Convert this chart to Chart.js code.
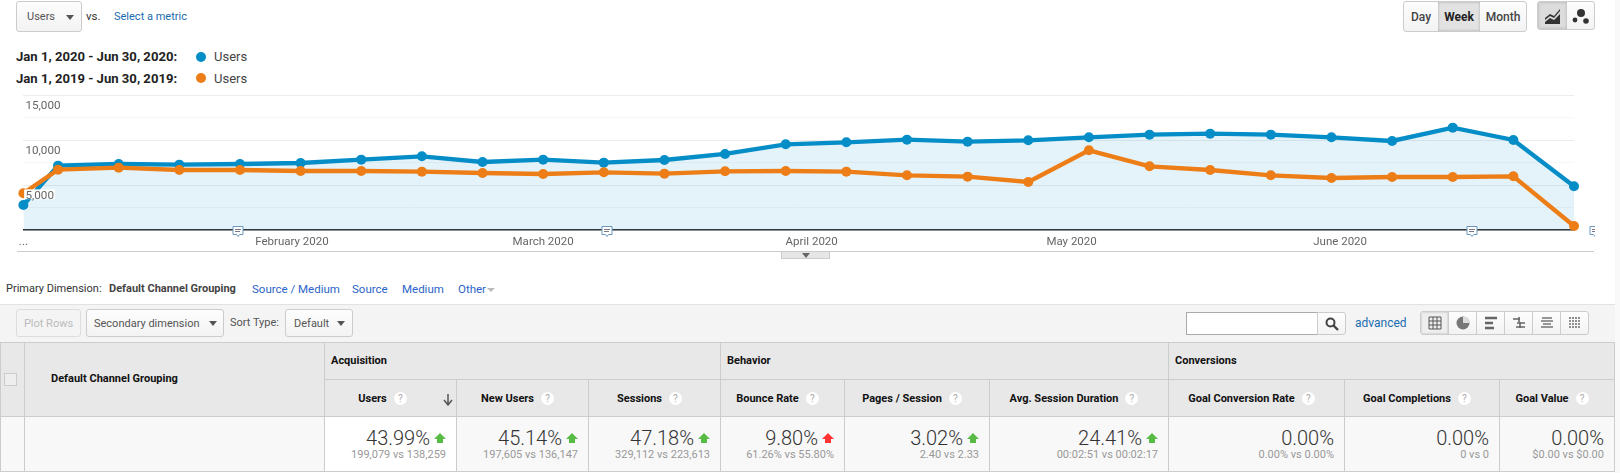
<!DOCTYPE html>
<html>
<head>
<meta charset="utf-8">
<title>Users</title>
<script src="https://cdn.jsdelivr.net/npm/chart.js@4"></script>
<style>
  html, body { margin: 0; padding: 0; background: #fff; }
  body { width: 1620px; height: 473px; overflow: hidden; position: relative; font-family: Roboto, sans-serif; font-size: 11.5px; color: #333; }
  .abs { position: absolute; white-space: nowrap; }
  .btn { position: absolute; box-sizing: border-box; border: 1px solid #ccc; border-radius: 3px; background: linear-gradient(#fdfdfd, #f3f3f3); color: #555; display: flex; align-items: center; font-size: 11px; }
  .caret { width: 0; height: 0; border-left: 4.5px solid transparent; border-right: 4.5px solid transparent; border-top: 5px solid #555; position: absolute; }
  a, .link { color: #1a6caf; }
  .blue { color: #2a64c8; }
  #chart-wrap { position: absolute; left: 0; top: 85px; width: 1620px; height: 165px; }
  #strip { position: absolute; left: 1615px; top: 0; width: 5px; height: 473px; background: #f9f9f9; }
  .seg { position: absolute; top: 0; bottom: 0; display: flex; align-items: center; justify-content: center; font-weight: 500; font-size: 12px; color: #444; box-sizing: border-box; }
  .cell { position: absolute; box-sizing: border-box; border-right: 1px solid #ccc; }
  .head { background: #e8e8e8; }
  .sub { top: 379px; height: 38px; border-top: 1px solid #ccc; border-bottom: 1px solid #ccc; display: flex; align-items: center; justify-content: center; font-weight: 700; font-size: 11px; color: #111; gap: 7px; padding-right: 10px; }
  .q { width: 13px; height: 13px; border-radius: 50%; background: #fff; color: #aaa; font-size: 10px; font-weight: 400; display: inline-flex; align-items: center; justify-content: center; }
  .data { top: 417px; height: 55px; background: #f8f8f8; border-bottom: 1px solid #ccc; }
  .data .big { position: absolute; top: 9px; font-size: 20px; font-weight: 300; color: #333; line-height: 24px; }
  .data .small { position: absolute; top: 31px; right: 10px; font-size: 11px; color: #999; line-height: 13px; }
  .grp { position: absolute; top: 354px; font-weight: 700; font-size: 11px; color: #111; line-height: 14px; }
</style>
</head>
<body>
  <div id="strip"></div>

  <!-- metric picker -->
  <div class="btn" style="left:16px;top:1px;width:66px;height:31px;padding-left:10px;">Users<span class="caret" style="left:49px;top:13px"></span></div>
  <div class="abs" style="left:86px;top:9px;font-size:11.5px;">vs.</div>
  <div class="abs link" style="left:114px;top:10px;font-size:11px;">Select a metric</div>

  <!-- legend -->
  <div class="abs" style="left:16px;top:49px;font-weight:700;font-size:13.1px;color:#222;">Jan 1, 2020 - Jun 30, 2020:</div>
  <div class="abs" style="left:196px;top:52px;width:10px;height:10px;border-radius:50%;background:#058dc7;"></div>
  <div class="abs" style="left:214px;top:49px;font-size:13px;color:#444;">Users</div>
  <div class="abs" style="left:16px;top:71px;font-weight:700;font-size:13.1px;color:#222;">Jan 1, 2019 - Jun 30, 2019:</div>
  <div class="abs" style="left:196px;top:73px;width:10px;height:10px;border-radius:50%;background:#ed7e17;"></div>
  <div class="abs" style="left:214px;top:71px;font-size:13px;color:#444;">Users</div>

  <!-- day / week / month -->
  <div class="btn" style="left:1403px;top:1px;width:124px;height:31px;overflow:hidden;">
    <div class="seg" style="left:0;width:34px;">Day</div>
    <div class="seg" style="left:34px;width:42px;background:#e2e2e2;box-shadow:inset 0 0 3px #aaa;color:#222;font-weight:700;">Week</div>
    <div class="seg" style="left:76px;width:46px;">Month</div>
  </div>
  <div class="btn" style="left:1537px;top:1px;width:58px;height:29px;overflow:hidden;">
    <div class="seg" style="left:0;width:29px;background:#dcdcdc;box-shadow:inset 0 0 3px #aaa;">
      <svg width="16" height="16" viewBox="0 0 16 16"><path d="M0 10 L5 6 L9 8 L15 1 L15 3 L9 10 L5 8 L0 12Z M0 14 L5 10 L9 12 L15 6 L15 16 L0 16Z" fill="#333"/></svg>
    </div>
    <svg style="position:absolute;left:34px;top:6px" width="18" height="17" viewBox="0 0 18 17"><circle cx="9" cy="5" r="4" fill="#333"/><circle cx="3" cy="12" r="2.4" fill="#333"/><circle cx="14" cy="13" r="2.8" fill="#333"/></svg>
  </div>

  <div id="chart-wrap"><canvas id="users-chart"></canvas></div>

  <!-- annotation markers on the axis -->
  <svg class="abs" style="left:232px;top:226px" width="12" height="12"><use href="#note"/></svg>
  <svg class="abs" style="left:601px;top:226px" width="12" height="12"><use href="#note"/></svg>
  <svg class="abs" style="left:1466px;top:226px" width="12" height="12"><use href="#note"/></svg>
  <svg class="abs" style="left:1589px;top:226px" width="6" height="12"><use href="#note"/></svg>
  <svg width="0" height="0" style="position:absolute"><defs><g id="note"><path d="M1 .5H11V8.5H7.5L6 10.5L4.5 8.5H1Z" fill="#fff" stroke="#6b97bd"/><path d="M3 3.5H9M3 5.5H8" stroke="#556" stroke-width=".8"/></g></defs></svg>

  <!-- divider + collapse handle -->
  <div class="abs" style="left:17px;top:251px;width:1577px;height:1px;background:#ccc;"></div>
  <div class="abs" style="left:781px;top:252px;width:49px;height:7px;background:#e6e6e6;border:1px solid #ccc;border-top:0;box-sizing:border-box;"><span class="caret" style="left:20px;top:1px;border-top-color:#666"></span></div>

  <!-- primary dimension row -->
  <div class="abs" style="left:6px;top:282px;font-size:11px;">Primary Dimension:</div>
  <div class="abs" style="left:109px;top:282px;font-weight:700;color:#444;font-size:11px;">Default Channel Grouping</div>
  <div class="abs blue" style="left:252px;top:282px;">Source / Medium</div>
  <div class="abs blue" style="left:352px;top:282px;">Source</div>
  <div class="abs blue" style="left:402px;top:282px;">Medium</div>
  <div class="abs blue" style="left:458px;top:282px;">Other</div>
  <span class="caret" style="left:487px;top:288px;border-top-color:#bbb;border-left-width:4px;border-right-width:4px;border-top-width:4px"></span>

  <!-- toolbar -->
  <div class="abs" style="left:0;top:304px;width:1615px;height:38px;background:#f4f4f4;border-top:1px solid #e2e2e2;box-sizing:border-box;"></div>
  <div class="btn" style="left:16px;top:309px;width:65px;height:28px;justify-content:center;color:#bbb;background:#f4f4f4;border-color:#ddd;">Plot Rows</div>
  <div class="btn" style="left:86px;top:309px;width:138px;height:28px;padding-left:7px;">Secondary dimension<span class="caret" style="left:122px;top:11px"></span></div>
  <div class="abs" style="left:230px;top:316px;color:#555;font-size:11px;">Sort Type:</div>
  <div class="btn" style="left:285px;top:309px;width:68px;height:28px;padding-left:8px;">Default<span class="caret" style="left:51px;top:11px"></span></div>
  <div class="abs" style="left:1186px;top:312px;width:132px;height:23px;background:#fff;border:1px solid #aaa;box-sizing:border-box;"></div>
  <div class="btn" style="left:1317px;top:312px;width:29px;height:23px;border-radius:0 3px 3px 0;justify-content:center;">
    <svg width="14" height="14" viewBox="0 0 14 14"><circle cx="5.5" cy="5.5" r="4" fill="none" stroke="#444" stroke-width="2"/><path d="M8.5 8.5L13 13" stroke="#444" stroke-width="2.4"/></svg>
  </div>
  <div class="abs link" style="left:1355px;top:316px;font-size:12px;">advanced</div>
  <div class="btn" style="left:1420px;top:311px;width:169px;height:24px;overflow:hidden;" id="view-btns"></div>

  <!-- table -->
  <div class="cell head" style="left:0;top:342px;width:25px;height:75px;border-top:1px solid #ccc;border-bottom:1px solid #ccc;border-left:1px solid #ccc;"></div>
  <div class="abs" style="left:4px;top:373px;width:13px;height:13px;border:1px solid #ccc;background:#eee;box-sizing:border-box;"></div>
  <div class="cell head" style="left:25px;top:342px;width:300px;height:75px;border-top:1px solid #ccc;border-bottom:1px solid #ccc;"></div>
  <div class="grp" style="left:51px;top:372px;">Default Channel Grouping</div>
  <div class="cell head" style="left:325px;top:342px;width:396px;height:38px;border-top:1px solid #ccc;"></div>
  <div class="cell head" style="left:721px;top:342px;width:448px;height:38px;border-top:1px solid #ccc;"></div>
  <div class="cell head" style="left:1169px;top:342px;width:446px;height:38px;border-top:1px solid #ccc;"></div>
  <div class="grp" style="left:331px;">Acquisition</div>
  <div class="grp" style="left:727px;">Behavior</div>
  <div class="grp" style="left:1175px;">Conversions</div>
  <div id="metric-cells"></div>
  <div class="cell data" style="left:0;width:25px;border-left:1px solid #ccc;"></div>
  <div class="cell data" style="left:25px;width:300px;"></div>

<script>
// x positions are days since Jan 1 2020, GA plots a short first week
const dayOffsets = [0, 4, 11, 18, 25, 32, 39, 46, 53, 60, 67, 74, 81, 88, 95, 102, 109, 116, 123, 130, 137, 144, 151, 158, 165, 172, 179];
const users2020 = [2785, 7166, 7350, 7277, 7350, 7463, 7834, 8205, 7574, 7834, 7500, 7797, 8466, 9542, 9765, 10062, 9840, 9988, 10322, 10619, 10730, 10619, 10322, 9914, 11399, 10025, 4864];
const users2019 = [4084, 6720, 6943, 6683, 6683, 6572, 6572, 6498, 6349, 6238, 6423, 6275, 6535, 6572, 6498, 6089, 5941, 5347, 8874, 7092, 6683, 6089, 5792, 5904, 5904, 5978, 446];

const monthTicks = [0, 31, 60, 91, 121, 152];
const monthLabels = ['...', 'February 2020', 'March 2020', 'April 2020', 'May 2020', 'June 2020'];

// table columns
const metricNames = ['Users', 'New Users', 'Sessions', 'Bounce Rate', 'Pages / Session', 'Avg. Session Duration', 'Goal Conversion Rate', 'Goal Completions', 'Goal Value'];
const metricChange = ['43.99%', '45.14%', '47.18%', '9.80%', '3.02%', '24.41%', '0.00%', '0.00%', '0.00%'];
const metricCompare = ['199,079 vs 138,259', '197,605 vs 136,147', '329,112 vs 223,613', '61.26% vs 55.80%', '2.40 vs 2.33', '00:02:51 vs 00:02:17', '0.00% vs 0.00%', '0 vs 0', '$0.00 vs $0.00'];
const metricArrow = ['#57bb45', '#57bb45', '#57bb45', '#f33', '#57bb45', '#57bb45', '', '', ''];
const columnEdges = [325, 457, 589, 721, 845, 990, 1169, 1345, 1500, 1615];

function toPoints(values) {
    return values.map((v, i) => ({ x: dayOffsets[i], y: v }));
}

new Chart(document.getElementById('users-chart'), {
    type: 'line',
    data: {
        datasets: [
            {
                label: 'Users 2019',
                data: toPoints(users2019),
                borderColor: '#ed7e17',
                backgroundColor: '#ed7e17',
                borderWidth: 4.3,
                pointRadius: 5,
                pointBorderWidth: 0,
                tension: 0,
                clip: false,
                order: 1
            },
            {
                label: 'Users 2020',
                data: toPoints(users2020),
                borderColor: '#058dc7',
                pointBackgroundColor: '#058dc7',
                backgroundColor: 'rgba(5, 141, 199, 0.11)',
                fill: 'origin',
                borderWidth: 4.3,
                pointRadius: 5,
                pointBorderWidth: 0,
                tension: 0,
                clip: false,
                order: 2
            }
        ]
    },
    options: {
        responsive: true,
        maintainAspectRatio: false,
        animation: false,
        layout: { padding: { left: 23.4, right: 46, top: 10.3, bottom: 0 } },
        plugins: { legend: { display: false }, tooltip: { enabled: false } },
        scales: {
            x: {
                type: 'linear',
                min: 0,
                max: 179,
                grid: { display: false, drawTicks: false },
                border: { color: '#333', width: 1.5 },
                afterBuildTicks: scale => { scale.ticks = monthTicks.map(v => ({ value: v })); },
                afterFit: scale => { scale.height = 20; },
                ticks: {
                    autoSkip: false,
                    maxRotation: 0,
                    padding: 5,
                    color: '#666',
                    font: { family: 'Roboto', size: 11.5 },
                    callback: (value, index) => monthLabels[index]
                }
            },
            y: {
                min: 0,
                max: 15000,
                border: { display: false },
                grid: {
                    drawTicks: false,
                    color: ctx => ctx.tick.value % 5000 === 0 ? '#ececec' : '#f7f7f7'
                },
                // labels sit inside the plot, so the axis takes no room
                afterFit: scale => {
                    scale.width = 0;
                    scale.paddingTop = 0;
                    scale.paddingBottom = 0;
                },
                ticks: {
                    stepSize: 2500,
                    autoSkip: false,
                    mirror: true,
                    z: 1,
                    padding: 2,
                    color: '#666',
                    font: { family: 'Roboto', size: 11.7, lineHeight: '21.4px' },
                    showLabelBackdrop: ctx => ctx.tick.value === 5000,
                    backdropColor: '#fff',
                    backdropPadding: { top: -36.6, bottom: 3.3, left: 1, right: 1 },
                    // empty first line pushes the label just under its grid line
                    callback: value => (value > 0 && value % 5000 === 0) ? ['', value.toLocaleString('en-US')] : ''
                }
            }
        }
    }
});

// metric cells of the table
const cellsHtml = metricNames.map((name, i) => {
    const left = columnEdges[i];
    const width = columnEdges[i + 1] - left;
    const sortArrow = i === 0 ? '<svg style="position:absolute;left:' + (width - 15) + 'px;top:13px" width="12" height="13" viewBox="0 0 12 13"><path d="M6 1V11M2 7L6 12L10 7" fill="none" stroke="#555" stroke-width="1.5"/></svg>' : '';
    const arrow = metricArrow[i] ? '<svg style="position:absolute;right:10px;top:15px" width="12" height="12" viewBox="0 0 12 12"><path d="M6 1L12 7H9V11H3V7H0Z" fill="' + metricArrow[i] + '"/></svg>' : '';
    const bigRight = metricArrow[i] ? 26 : 10;
    const bg = i === 0 ? 'background:#fff;' : '';
    const headPad = i === 0 ? 'padding-right:16px;' : '';
    return '<div class="cell head sub" style="left:' + left + 'px;width:' + width + 'px;' + headPad + '">' + name + ' <span class="q">?</span>' + sortArrow + '</div>' +
        '<div class="cell data" style="left:' + left + 'px;width:' + width + 'px;' + bg + '">' +
        '<div class="big" style="right:' + bigRight + 'px">' + metricChange[i] + '</div>' + arrow +
        '<div class="small">' + metricCompare[i] + '</div></div>';
}).join('');
document.getElementById('metric-cells').innerHTML = cellsHtml;

// table view buttons
const viewIcons = [
    '<path d="M1 1H13V13H1ZM1 5H13M1 9H13M5 1V13M9 1V13" fill="none" stroke="#555"/>',
    '<circle cx="7" cy="7" r="6.5" fill="#777"/><path d="M7 7V.5A6.5 6.5 0 0 1 13.5 7Z" fill="#ddd"/>',
    '<path d="M1 2H13M1 7H9M1 12H10" stroke="#666" stroke-width="2.4"/>',
    '<path d="M1 3H8M5 7H13M4 11H13M7 1V6M8 6V12" stroke="#666" stroke-width="1.6" fill="none"/>',
    '<path d="M2 2H12M1 5H13M3 8H11M1 11H13" stroke="#777" stroke-width="1.6"/>',
    '<path d="M1 2H13M2 4V13M5 4V13M8 4V13M11 4V13" stroke="#666" stroke-width="1.4" stroke-dasharray="2 1"/>'
];
document.getElementById('view-btns').innerHTML = viewIcons.map((icon, i) =>
    '<div class="seg" style="left:' + (i * 28) + 'px;width:28px;border-right:1px solid #ccc;' + (i === 0 ? 'background:#eee;box-shadow:inset 0 0 2px #aaa;' : '') + '"><svg width="14" height="14" viewBox="0 0 14 14">' + icon + '</svg></div>'
).join('');
</script>
</body>
</html>
